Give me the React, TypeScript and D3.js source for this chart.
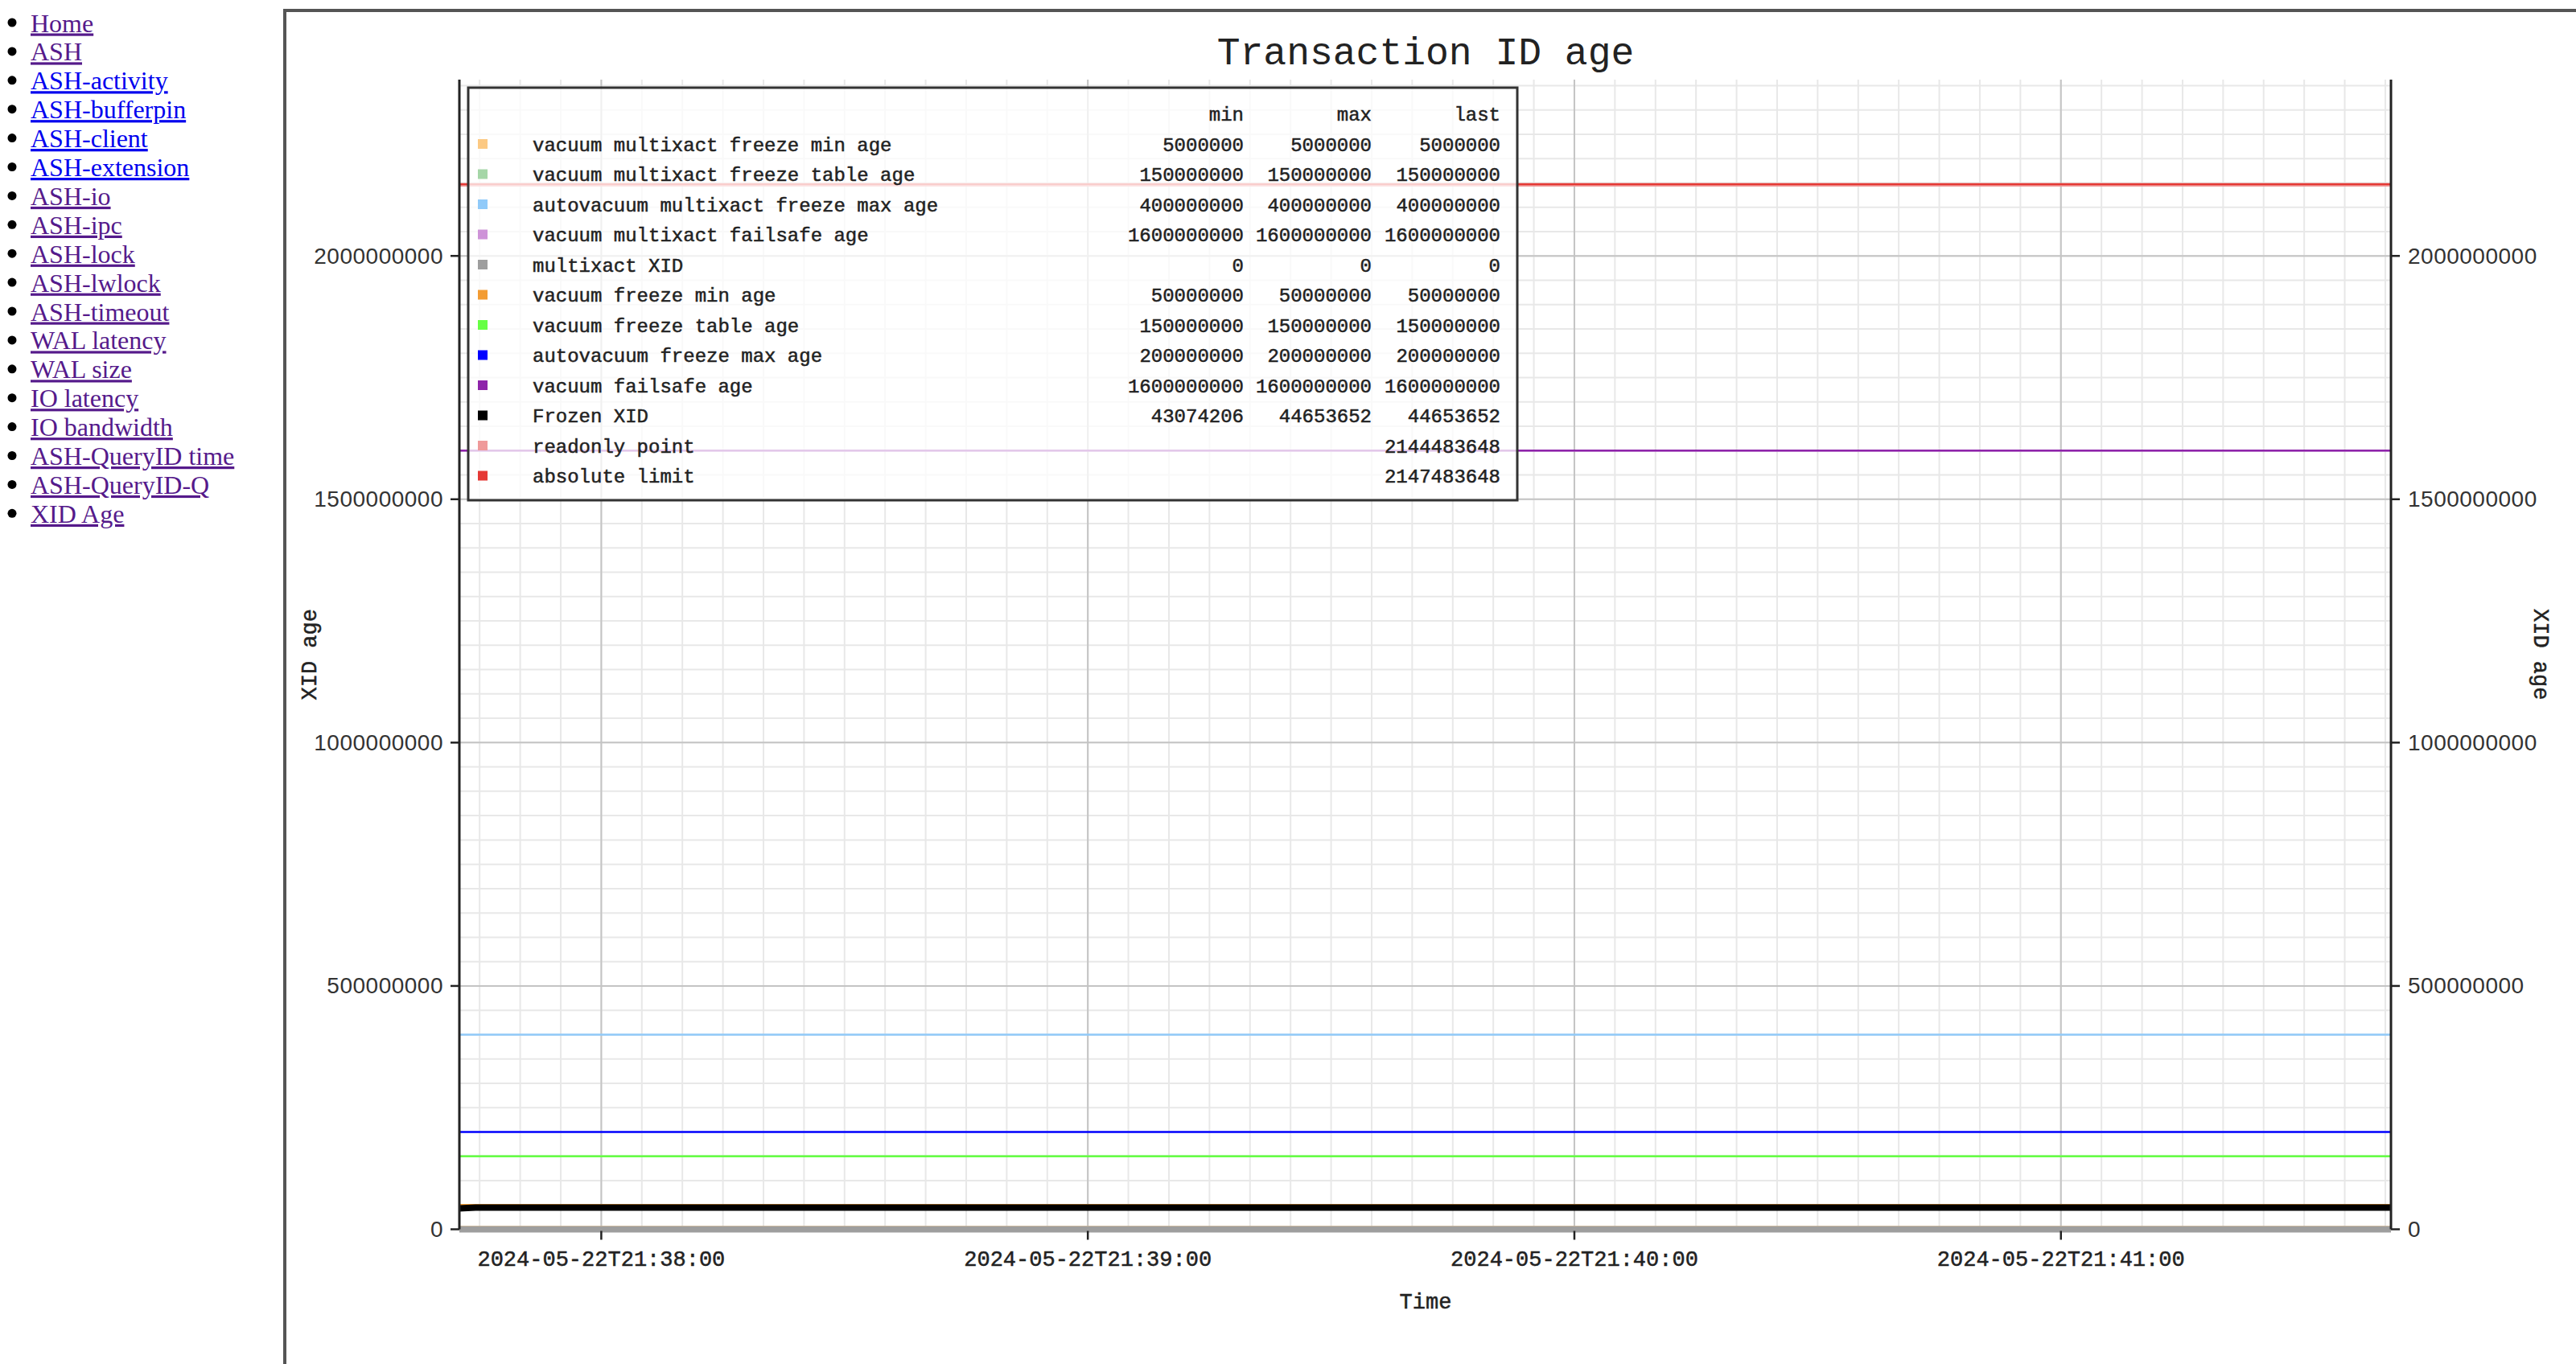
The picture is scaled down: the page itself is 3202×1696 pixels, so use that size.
import * as d3 from "d3";

const navLinks = [
  "Home",
  "ASH",
  "ASH-activity",
  "ASH-bufferpin",
  "ASH-client",
  "ASH-extension",
  "ASH-io",
  "ASH-ipc",
  "ASH-lock",
  "ASH-lwlock",
  "ASH-timeout",
  "WAL latency",
  "WAL size",
  "IO latency",
  "IO bandwidth",
  "ASH-QueryID time",
  "ASH-QueryID-Q",
  "XID Age",
];
const unvisitedLinks = ["ASH-activity", "ASH-bufferpin", "ASH-client", "ASH-extension"];

const seriesNames = [
  "vacuum multixact freeze min age",
  "vacuum multixact freeze table age",
  "autovacuum multixact freeze max age",
  "vacuum multixact failsafe age",
  "multixact XID",
  "vacuum freeze min age",
  "vacuum freeze table age",
  "autovacuum freeze max age",
  "vacuum failsafe age",
  "Frozen XID",
  "readonly point",
  "absolute limit",
];
const seriesColors = [
  "#fcc983",
  "#a5d6a7",
  "#90caf9",
  "#ce93d8",
  "#9e9e9e",
  "#f39c33",
  "#66ff44",
  "#0000ff",
  "#8e24aa",
  "#000000",
  "#ef9a9a",
  "#e53935",
];
const sampleTimes = [
  "2024-05-22T21:37:42.500",
  "2024-05-22T21:37:44.500",
  "2024-05-22T21:41:40.700",
];
const seriesValues = [
  [5000000, 5000000, 5000000],
  [150000000, 150000000, 150000000],
  [400000000, 400000000, 400000000],
  [1600000000, 1600000000, 1600000000],
  [0, 0, 0],
  [50000000, 50000000, 50000000],
  [150000000, 150000000, 150000000],
  [200000000, 200000000, 200000000],
  [1600000000, 1600000000, 1600000000],
  [43074206, 44653652, 44653652],
  [2144483648, 2144483648, 2144483648],
  [2147483648, 2147483648, 2147483648],
];
// limits only report "last" in the legend
const lastOnlySeries = ["readonly point", "absolute limit"];
const wideSeries = ["multixact XID", "Frozen XID"];

export default function App() {
  const width = 3202;
  const height = 1696;
  const margin = { top: 99, right: 230, bottom: 167.5, left: 571 };
  const plotRight = width - margin.right;
  const plotBottom = height - margin.bottom;

  const times = sampleTimes.map((t) => new Date(t));
  const x = d3.scaleTime(d3.extent(times) as [Date, Date], [margin.left, plotRight]);
  const yMax = (d3.max(seriesValues.flat()) ?? 1) * 1.1;
  const y = d3.scaleLinear([0, yMax], [plotBottom, margin.top]);

  const majorY = d3.range(0, yMax, 500000000);
  const minorY = d3.range(0, yMax, 50000000);
  const majorX = x.ticks(d3.timeMinute.every(1)!);
  const minorX = x.ticks(d3.timeSecond.every(5)!);
  const timeFmt = d3.timeFormat("%Y-%m-%dT%H:%M:%S");
  const fmt = d3.format("d");

  const line = d3
    .line<number>()
    .x((_, i) => x(times[i]))
    .y((d) => y(d));

  const mono = "'Liberation Mono', 'Courier New', monospace";
  const sans = "'Liberation Sans', Arial, sans-serif";
  const serif = "'Liberation Serif', 'Times New Roman', serif";

  const legend = { x: 582, y: 109, w: 1304, h: 513, rowH: 37.5, first: 181 };
  const cols = [1546, 1705, 1865];
  // a hairline stroke so the mono text reads as heavy as the original
  const monoInk = { fill: "#222", stroke: "#222", strokeWidth: 0.5 };

  return (
    <svg
      width={width}
      height={height}
      viewBox={`0 0 ${width} ${height}`}
      style={{ position: "absolute", left: 0, top: 0, background: "#fff" }}
    >
      {navLinks.map((name, i) => (
        <g key={name}>
          <circle cx={15} cy={28 + 35.9 * i} r={5.5} fill="#000" />
          <text
            x={38}
            y={39.5 + 35.9 * i}
            fontFamily={serif}
            fontSize={32}
            fill={unvisitedLinks.includes(name) ? "#0000ee" : "#551a8b"}
            style={{ textDecoration: "underline" }}
          >
            {name}
          </text>
        </g>
      ))}

      <line x1={354} y1={11} x2={354} y2={height} stroke="#555" strokeWidth={4} />
      <line x1={352} y1={13} x2={width} y2={13} stroke="#555" strokeWidth={4} />

      <text x={1772} y={80} textAnchor="middle" fontFamily={mono} fontSize={48} fill="#222">
        Transaction ID age
      </text>

      {minorY.map((v) => (
        <line key={`my${v}`} x1={margin.left} x2={plotRight} y1={y(v)} y2={y(v)} stroke="#e8e8e8" strokeWidth={2} />
      ))}
      {minorX.map((t) => (
        <line key={`mx${+t}`} x1={x(t)} x2={x(t)} y1={margin.top} y2={plotBottom} stroke="#e8e8e8" strokeWidth={2} />
      ))}
      {majorY.map((v) => (
        <line key={`gy${v}`} x1={margin.left} x2={plotRight} y1={y(v)} y2={y(v)} stroke="#c4c4c4" strokeWidth={2} />
      ))}
      {majorX.map((t) => (
        <line key={`gx${+t}`} x1={x(t)} x2={x(t)} y1={margin.top} y2={plotBottom} stroke="#c4c4c4" strokeWidth={2} />
      ))}

      {seriesNames.map((name, i) => (
        <path
          key={name}
          d={line(seriesValues[i]) ?? ""}
          fill="none"
          stroke={seriesColors[i]}
          strokeWidth={wideSeries.includes(name) ? 8 : 2.5}
        />
      ))}

      {/* left axis */}
      <line x1={margin.left} x2={margin.left} y1={margin.top} y2={plotBottom} stroke="#222" strokeWidth={3} />
      {majorY.map((v) => (
        <g key={`ly${v}`}>
          <line x1={margin.left - 11} x2={margin.left} y1={y(v)} y2={y(v)} stroke="#222" strokeWidth={2.5} />
          <text
            x={551}
            y={y(v)}
            textAnchor="end"
            dominantBaseline="central"
            fontFamily={sans}
            fontSize={28}
            letterSpacing={0.5}
            fill="#333"
          >
            {fmt(v)}
          </text>
        </g>
      ))}
      {/* right axis */}
      <line x1={plotRight} x2={plotRight} y1={margin.top} y2={plotBottom} stroke="#222" strokeWidth={3} />
      {majorY.map((v) => (
        <g key={`ry${v}`}>
          <line x1={plotRight} x2={plotRight + 11} y1={y(v)} y2={y(v)} stroke="#222" strokeWidth={2.5} />
          <text
            x={2993}
            y={y(v)}
            dominantBaseline="central"
            fontFamily={sans}
            fontSize={28}
            letterSpacing={0.5}
            fill="#333"
          >
            {fmt(v)}
          </text>
        </g>
      ))}
      {/* bottom axis */}
      {majorX.map((t) => (
        <g key={`bx${+t}`}>
          <line x1={x(t)} x2={x(t)} y1={plotBottom + 2} y2={plotBottom + 13} stroke="#222" strokeWidth={2.5} />
          <text x={x(t)} y={1574} textAnchor="middle" fontFamily={mono} fontSize={27} {...monoInk}>
            {timeFmt(t)}
          </text>
        </g>
      ))}

      <text x={1772} y={1620} textAnchor="middle" dominantBaseline="central" fontFamily={mono} fontSize={27} {...monoInk}>
        Time
      </text>
      <text
        transform={`translate(386, ${(margin.top + plotBottom) / 2}) rotate(-90)`}
        textAnchor="middle"
        dominantBaseline="central"
        fontFamily={mono}
        fontSize={27}
        {...monoInk}
      >
        XID age
      </text>
      <text
        transform={`translate(3157, ${(margin.top + plotBottom) / 2}) rotate(90)`}
        textAnchor="middle"
        dominantBaseline="central"
        fontFamily={mono}
        fontSize={27}
        {...monoInk}
      >
        XID age
      </text>

      {/* legend */}
      <rect
        x={legend.x}
        y={legend.y}
        width={legend.w}
        height={legend.h}
        fill="#fff"
        fillOpacity={0.75}
        stroke="#333"
        strokeWidth={3}
      />
      {["min", "max", "last"].map((h, j) => (
        <text
          key={h}
          x={cols[j]}
          y={legend.first - legend.rowH}
          textAnchor="end"
          dominantBaseline="central"
          fontFamily={mono}
          fontSize={24}
          {...monoInk}
        >
          {h}
        </text>
      ))}
      {seriesNames.map((name, i) => {
        const cy = legend.first + legend.rowH * i;
        const vals = seriesValues[i];
        const stats = lastOnlySeries.includes(name)
          ? ["", "", fmt(vals[vals.length - 1])]
          : [fmt(d3.min(vals) ?? 0), fmt(d3.max(vals) ?? 0), fmt(vals[vals.length - 1])];
        return (
          <g key={`lg${name}`}>
            <rect x={594} y={cy - 8} width={12} height={12} fill={seriesColors[i]} />
            <text x={662} y={cy} dominantBaseline="central" fontFamily={mono} fontSize={24} {...monoInk}>
              {name}
            </text>
            {stats.map((s, j) => (
              <text
                key={j}
                x={cols[j]}
                y={cy}
                textAnchor="end"
                dominantBaseline="central"
                fontFamily={mono}
                fontSize={24}
                {...monoInk}
              >
                {s}
              </text>
            ))}
          </g>
        );
      })}
    </svg>
  );
}
